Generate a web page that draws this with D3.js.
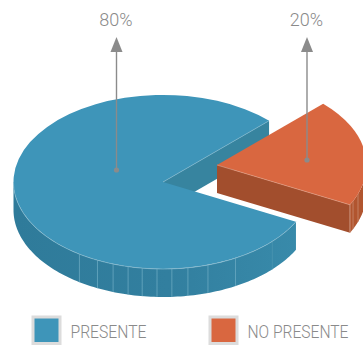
<!DOCTYPE html>
<html>
<head>
<meta charset="utf-8">
<style>
html,body{margin:0;padding:0;background:#fff;overflow:hidden}
svg{display:block}
text{font-family:"Roboto",sans-serif;font-weight:300;fill:#8a8a8a}
</style>
<script src="https://cdn.jsdelivr.net/npm/d3@7"></script>
</head>
<body>
<svg id="chart" width="363" height="345"></svg>
<script>
const categories = ["PRESENTE", "NO PRESENTE"];
const values = [80, 20];
const valueLabels = ["80%", "20%"];
const topColors = ["#3e95b9", "#d96740"];
// Angles (degrees, clockwise from twelve o'clock) of the thin seams on each rim
const seamsBlue = [214, 206, 199.5, 193.5, 188, 182.3, 176.6, 170.4, 162.5, 151, 133];
const seamsRed = [109.4, 114.5];

const cx = 163, cy = 182, rx = 149.5, ry = 87, depth = 28;
const explode = [[0, 0], [54, -17]];
const startDeg = 117.2;
const labelTopY = 37;

const svg = d3.select("#chart");
const defs = svg.append("defs");
const rimGradient = defs.append("linearGradient").attr("id", "blueRim")
  .attr("gradientUnits", "userSpaceOnUse")
  .attr("x1", 14).attr("x2", 296).attr("y1", 0).attr("y2", 0);
[[0, "#2f7b9a"], [0.55, "#327f9f"], [1, "#388aaa"]].forEach(([o, c]) =>
  rimGradient.append("stop").attr("offset", o).attr("stop-color", c));

const pie = d3.pie().sort(null)
  .startAngle(startDeg * Math.PI / 180)
  .endAngle((startDeg + 360) * Math.PI / 180);
const slices = pie(values);

// Horizontal and vertical scales of the tilted disc, in unit-circle coordinates
const sx = d3.scaleLinear().domain([-1, 1]).range([cx - rx, cx + rx]);
const sy = d3.scaleLinear().domain([-1, 1]).range([cy + ry, cy - ry]);
const rim = a => [sx(Math.sin(a)), sy(Math.cos(a))];
const line = d3.line();

const arcPoints = (a0, a1) => d3.range(0, 121).map(i => rim(a0 + (a1 - a0) * i / 120));
const shift = (pts, [dx, dy]) => pts.map(([x, y]) => [x + dx, y + dy]);

const drawRim = (g, a0, a1, offset, fill) => {
  const top = shift(arcPoints(a0, a1), offset);
  const bottom = top.map(([x, y]) => [x, y + depth]).reverse();
  g.append("path").attr("d", line(top.concat(bottom)) + "Z").attr("fill", fill);
};

const drawSeam = (g, deg, offset, stroke, width) => {
  const [x, y] = rim(deg * Math.PI / 180);
  g.append("line")
    .attr("x1", x + offset[0]).attr("x2", x + offset[0])
    .attr("y1", y + offset[1]).attr("y2", y + offset[1] + depth)
    .attr("stroke", stroke).attr("stroke-width", width);
};

const arcGen = d3.arc().innerRadius(0).outerRadius(1);

const blue = svg.append("g");
const [blue0, blue1] = [slices[0].startAngle, slices[0].endAngle];

// Cut face along the trailing edge of the large slice
const endPt = rim(blue1);
blue.append("path")
  .attr("d", line([[cx, cy], endPt, [endPt[0], endPt[1] + depth], [cx, cy + depth]]) + "Z")
  .attr("fill", "#37849f");

// Outer wall: only the part of the rim facing the viewer
drawRim(blue, blue0, Math.PI * 1.5, [0, 0], "url(#blueRim)");
seamsBlue.forEach((a, i) => drawSeam(blue, a, [0, 0], i === seamsBlue.length - 1 ? "#4a94b0" : "#6ba9c1", 0.8));

blue.append("g")
  .attr("transform", `translate(${cx},${cy}) scale(${rx},${ry})`)
  .append("path")
  .attr("d", arcGen(slices[0]))
  .attr("fill", topColors[0]);

// Light highlight along the front edge of the disc and the cut
blue.append("path")
  .attr("d", line(arcPoints(blue0, Math.PI * 1.5)))
  .attr("fill", "none").attr("stroke", "#7fb6cc").attr("stroke-width", 0.7);
blue.append("path")
  .attr("d", line([[cx, cy], endPt]))
  .attr("fill", "none").attr("stroke", "#7fb6cc").attr("stroke-width", 0.7);

// Exploded small slice
const red = svg.append("g");
const off = explode[1];
const red1 = slices[1].endAngle - 2 * Math.PI;
const apex = [cx + off[0], cy + off[1]];
const redEnd = shift([rim(red1)], off)[0];
red.append("path")
  .attr("d", line([apex, redEnd, [redEnd[0], redEnd[1] + depth], [apex[0], apex[1] + depth]]) + "Z")
  .attr("fill", "#a24e2d");
drawRim(red, Math.PI / 2, red1, off, "#b1552f");
seamsRed.forEach(a => drawSeam(red, a, off, "#c98a70", 0.8));
red.append("g")
  .attr("transform", `translate(${apex[0]},${apex[1]}) scale(${rx},${ry})`)
  .append("path").attr("d", arcGen(slices[1])).attr("fill", topColors[1]);
red.append("path")
  .attr("d", line([apex, redEnd]))
  .attr("fill", "none").attr("stroke", "#e09a7f").attr("stroke-width", 0.7);
red.append("line")
  .attr("x1", redEnd[0]).attr("x2", redEnd[0])
  .attr("y1", redEnd[1]).attr("y2", redEnd[1] + depth)
  .attr("stroke", "#d6a08a").attr("stroke-width", 0.8);

// Callout arrows and value labels
const arrowColor = "#8b8b8b";
const callouts = [{x: 116.5, y: 170}, {x: 307, y: 160}];
callouts.forEach((c, i) => {
  const g = svg.append("g");
  g.append("line").attr("x1", c.x).attr("x2", c.x).attr("y1", c.y).attr("y2", labelTopY + 12)
    .attr("stroke", arrowColor).attr("stroke-width", 1.4);
  g.append("circle").attr("cx", c.x).attr("cy", c.y).attr("r", 2.6).attr("fill", arrowColor);
  g.append("path")
    .attr("d", line([[c.x, labelTopY], [c.x + 6, labelTopY + 15], [c.x - 6, labelTopY + 15]]) + "Z")
    .attr("fill", arrowColor);
  g.append("text")
    .attr("x", c.x - 0.5).attr("y", 26)
    .attr("text-anchor", "middle")
    .attr("font-size", 18)
    .text(valueLabels[i]);
});

// Legend
const legendX = d3.scaleOrdinal().domain(categories).range([33, 210]);
categories.forEach((name, i) => {
  const x = legendX(name);
  svg.append("rect").attr("x", x).attr("y", 317).attr("width", 27).attr("height", 26.5)
    .attr("fill", topColors[i]).attr("stroke", "#dcdcdc").attr("stroke-width", 3);
  const label = svg.append("text")
    .attr("font-size", 19)
    .text(name);
  // Fit each legend entry to the condensed width used in the legend row
  const natural = label.node().getComputedTextLength();
  const target = d3.scaleOrdinal().domain(categories).range([76, 101])(name);
  label.attr("transform", `translate(${x + 37.5},337.5) scale(${target / natural},1)`);
});
</script>
</body>
</html>
